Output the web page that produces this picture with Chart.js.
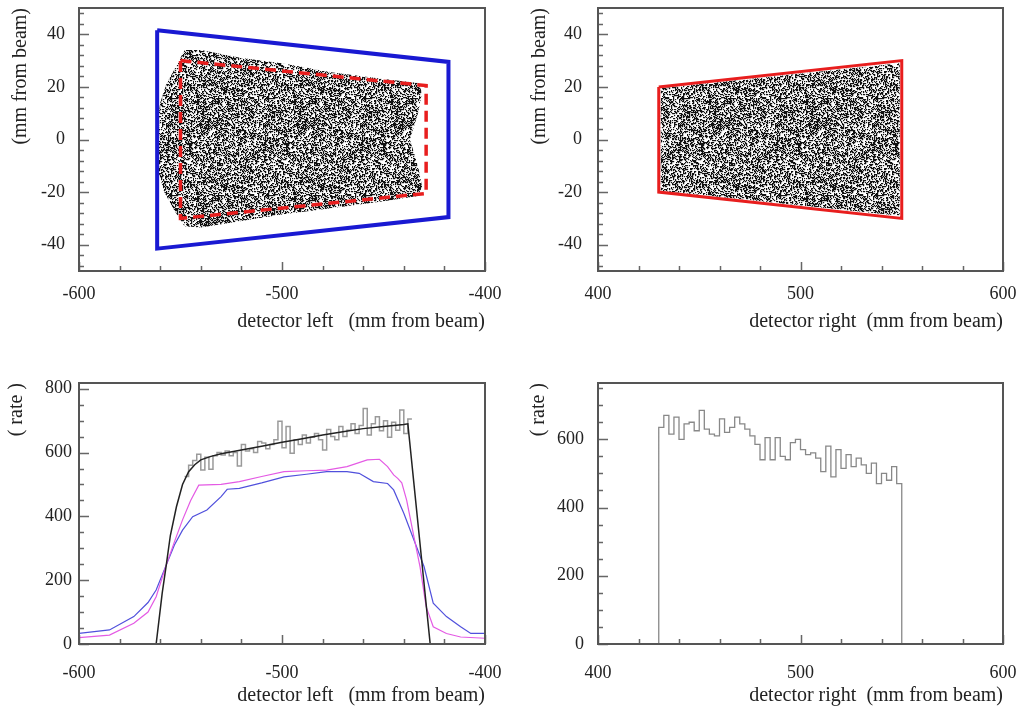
<!DOCTYPE html>
<html>
<head>
<meta charset="utf-8">
<script src="https://cdn.jsdelivr.net/npm/chart.js@4.4.1/dist/chart.umd.min.js"></script>
<style>
  body { margin: 0; background: #fff; }
  canvas { position: absolute; }
</style>
</head>
<body>
<canvas id="topLeft" width="512" height="340" style="left:0;top:0"></canvas>
<canvas id="topRight" width="513" height="340" style="left:512px;top:0"></canvas>
<canvas id="bottomLeft" width="512" height="354" style="left:0;top:354px"></canvas>
<canvas id="bottomRight" width="513" height="354" style="left:512px;top:354px"></canvas>
<script>
// --- data ---
// top left: detector left acceptance (mm)
const leftOuterFrame = [[-561.5, 41.5], [-418, 29.5], [-418, -29.5], [-561.5, -41.5], [-561.5, 41.5]];
const leftInnerFrame = [[-550, 30], [-429, 20.5], [-429, -20.5], [-550, -30], [-550, 30]];
const leftCloud = [[-561, 8], [-560, 14], [-557, 21], [-552, 28], [-548, 34], [-540, 34], [-520, 31],
  [-500, 29], [-475, 25.5], [-450, 23], [-433, 21.5], [-431, 18], [-433, 10], [-437, 0], [-433, -10],
  [-431, -18], [-433, -21.5], [-450, -23.5], [-475, -26], [-500, -28.5], [-520, -31], [-540, -33.5],
  [-548, -33], [-553, -27], [-558, -20], [-561, -12], [-562, 0], [-561, 8]];

// top right: detector right acceptance (mm)
const rightFrame = [[430, 20], [550, 30], [550, -30], [430, -20], [430, 20]];
const rightCloud = [[431, 19.5], [549, 29], [549, -29], [431, -19.5], [431, 19.5]];

// bottom left: rate vs position
const fitX = [-600, -562, -559, -557, -555, -552, -549, -546, -543, -540, -535, -530, -520, -510,
  -500, -490, -480, -470, -460, -450, -440, -438, -427, -400];
const fitY = [0, 0, 160, 248, 340, 430, 500, 540, 562, 577, 588, 596, 608, 620,
  632, 643, 655, 665, 675, 682, 688, 690, 0, 0];
const magentaX = [-600, -585, -573, -566, -562, -557, -553, -549, -545, -541, -530, -521, -510, -499,
  -488, -478, -468, -458, -452, -448, -445, -443, -441, -438.6, -435, -432, -429, -425.5, -419, -412, -400];
const magentaY = [20, 28, 65, 100, 148, 248, 320, 389, 450, 498, 500, 509, 525, 540,
  543, 545, 556, 577, 579, 556, 530, 519, 505, 451, 336, 242, 117, 54, 33, 22, 18];
const blueX = [-600, -585, -573, -566, -562, -557, -553, -549, -544, -537, -530, -527, -521, -510,
  -499, -488, -478, -468, -462, -455, -448, -445, -440, -435, -430, -425.5, -419, -412, -407, -400];
const blueY = [33, 44, 86, 130, 169, 248, 310, 357, 399, 420, 462, 485, 488, 505,
  524, 532, 540, 540, 535, 509, 503, 483, 410, 326, 242, 128, 86, 54, 33, 33];
const leftHistStart = -548, leftHistBin = 2;
const leftHist = [525, 560, 575, 595, 545, 585, 548, 590, 600, 592, 605, 590, 600, 558, 625, 605,
  612, 600, 635, 630, 612, 625, 640, 698, 615, 682, 598, 640, 625, 655, 630, 648, 660, 640, 608,
  672, 650, 640, 682, 650, 670, 690, 660, 685, 738, 655, 690, 712, 668, 700, 648, 695, 670, 733,
  660, 705];

// bottom right: rate vs position
const rightHistStart = 430, rightHistBin = 2.5;
const rightHist = [635, 670, 615, 665, 600, 645, 650, 625, 685, 630, 615, 610, 660, 620, 635, 665,
  645, 630, 610, 585, 540, 605, 540, 605, 550, 540, 590, 600, 570, 555, 560, 545, 505, 580, 490,
  570, 515, 555, 520, 545, 525, 500, 530, 470, 500, 480, 520, 470];

// tick labels
const xTicksLeft = [-600, -500, -400];
const xTicksRight = [400, 500, 600];
const yTicksPos = [-40, -20, 0, 20, 40];
const yTicksRateLeft = [0, 200, 400, 600, 800];
const yTicksRateRight = [0, 200, 400, 600];

// --- helpers ---
const pts = arr => arr.map(p => ({ x: p[0], y: p[1] }));
const zip = (xs, ys) => xs.map((x, i) => ({ x, y: ys[i] }));

function histPoints(start, bin, vals, closeToZero) {
  const out = closeToZero ? [{ x: start, y: 0 }] : [];
  vals.forEach((v, i) => out.push({ x: start + i * bin, y: v }));
  const end = start + vals.length * bin;
  out.push({ x: end, y: closeToZero ? 0 : vals[vals.length - 1] });
  return out;
}

// speckled fill texture for the hit clouds
function speckle() {
  const n = 97;
  const c = document.createElement('canvas');
  c.width = c.height = n;
  const g = c.getContext('2d');
  g.fillStyle = '#fff';
  g.fillRect(0, 0, n, n);
  g.fillStyle = '#111';
  for (let i = 0; i < n; i++) {
    for (let j = 0; j < n; j++) {
      let h = (i * 374761393 + j * 668265263) | 0;
      h = Math.imul(h ^ (h >>> 13), 1274126177);
      h ^= h >>> 16;
      if ((h >>> 0) / 4294967296 < 0.42) g.fillRect(i, j, 1.2, 1.2);
    }
  }
  return g.createPattern(c, 'repeat');
}

// frame + inward ticks (ROOT style)
const frameTicks = {
  id: 'frameTicks',
  afterDatasetsDraw(chart, args, opts) {
    const { ctx, chartArea: a, scales } = chart;
    const sx = scales.x, sy = scales.y;
    ctx.save();
    ctx.strokeStyle = '#666';
    ctx.lineWidth = 1.5;
    ctx.beginPath();
    for (let v = Math.ceil(sx.min / opts.xMinor) * opts.xMinor; v <= sx.max; v += opts.xMinor) {
      const px = Math.round(sx.getPixelForValue(v)) + 0.5;
      const major = sx.ticks.some(t => t.value === v);
      ctx.moveTo(px, a.bottom);
      ctx.lineTo(px, a.bottom - (major ? 9 : 5));
    }
    for (let v = Math.ceil(sy.min / opts.yMinor) * opts.yMinor; v <= sy.max; v += opts.yMinor) {
      const py = Math.round(sy.getPixelForValue(v)) + 0.5;
      const major = sy.ticks.some(t => t.value === v);
      ctx.moveTo(a.left, py);
      ctx.lineTo(a.left + (major ? 10 : 5), py);
    }
    ctx.stroke();
    ctx.lineWidth = 2;
    ctx.strokeStyle = '#555';
    ctx.strokeRect(a.left, a.top, a.right - a.left, a.bottom - a.top);
    ctx.restore();
  }
};

const tickFont = { family: "'Liberation Serif', 'DejaVu Serif', serif", size: 18 };
const titleFont = { family: "'Liberation Serif', 'DejaVu Serif', serif", size: 20 };

function makeChart(id, datasets, c) {
  return new Chart(document.getElementById(id), {
    type: 'line',
    data: { datasets },
    plugins: [frameTicks],
    options: {
      responsive: false,
      animation: false,
      layout: { padding: { top: c.padTop, right: c.padRight, left: 0, bottom: 0 } },
      elements: { point: { radius: 0 }, line: { tension: 0 } },
      plugins: {
        legend: { display: false },
        tooltip: { enabled: false },
        frameTicks: { xMinor: c.xMinor, yMinor: c.yMinor }
      },
      scales: {
        x: {
          type: 'linear',
          min: c.xRange[0], max: c.xRange[1],
          grid: { display: false, drawTicks: false },
          border: { display: false },
          ticks: { maxRotation: 0, autoSkip: false, font: tickFont, color: '#222', padding: c.xPad },
          afterBuildTicks: s => { s.ticks = c.xTicks.map(v => ({ value: v })); },
          title: { display: true, text: c.xTitle, align: 'end', font: titleFont, color: '#222',
                   padding: { top: 0, bottom: c.xTitlePad } },
          afterFit: s => { s.height = c.xHeight; s.paddingLeft = 0; s.paddingRight = 0; }
        },
        y: {
          min: c.yRange[0], max: c.yRange[1],
          grid: { display: false, drawTicks: false },
          border: { display: false },
          ticks: { autoSkip: false, font: tickFont, color: '#222', padding: c.yPad },
          afterBuildTicks: s => { s.ticks = c.yTicks.map(v => ({ value: v })); },
          title: { display: true, text: c.yTitle, align: 'end', font: titleFont, color: '#222',
                   padding: { top: c.yTitlePad, bottom: 0 } },
          afterFit: s => { s.width = c.yWidth; s.paddingTop = 0; s.paddingBottom = 0; }
        }
      }
    }
  });
}

const dots = speckle();
const blue = 'rgb(25,25,210)', red = 'rgb(232,30,30)';

makeChart('topLeft', [
  { data: pts(leftOuterFrame), borderColor: blue, borderWidth: 4, fill: false },
  { data: pts(leftInnerFrame), borderColor: red, borderWidth: 3.5, borderDash: [11, 6], fill: false },
  { data: pts(leftCloud), borderWidth: 0, borderColor: 'rgba(0,0,0,0)', backgroundColor: dots, fill: 'shape' }
], { xRange: [-600, -400], yRange: [-50, 50], xTicks: xTicksLeft, yTicks: yTicksPos, xMinor: 20, yMinor: 4,
     padTop: 8, padRight: 27, yWidth: 79, xHeight: 69, xPad: 12, yPad: 14,
     xTitle: 'detector left   (mm from beam)', yTitle: '(mm from beam)', xTitlePad: 6, yTitlePad: 9 });

makeChart('topRight', [
  { data: pts(rightFrame), borderColor: red, borderWidth: 3, fill: false },
  { data: pts(rightCloud), borderWidth: 0, borderColor: 'rgba(0,0,0,0)', backgroundColor: dots, fill: 'shape' }
], { xRange: [400, 600], yRange: [-50, 50], xTicks: xTicksRight, yTicks: yTicksPos, xMinor: 20, yMinor: 4,
     padTop: 8, padRight: 22, yWidth: 86, xHeight: 69, xPad: 12, yPad: 16,
     xTitle: 'detector right  (mm from beam)', yTitle: '(mm from beam)', xTitlePad: 6, yTitlePad: 16 });

makeChart('bottomLeft', [
  { data: zip(fitX, fitY), borderColor: '#222', borderWidth: 1.5, fill: false },
  { data: histPoints(leftHistStart, leftHistBin, leftHist, false), borderColor: '#9a9a9a', borderWidth: 1.5, stepped: true, fill: false },
  { data: zip(magentaX, magentaY), borderColor: 'rgb(228,90,228)', borderWidth: 1.2, fill: false },
  { data: zip(blueX, blueY), borderColor: 'rgb(80,80,220)', borderWidth: 1.2, fill: false }
], { xRange: [-600, -400], yRange: [0, 818], xTicks: xTicksLeft, yTicks: yTicksRateLeft, xMinor: 20, yMinor: 50,
     padTop: 29, padRight: 27, yWidth: 79, xHeight: 64, xPad: 18, yPad: 7,
     xTitle: 'detector left   (mm from beam)', yTitle: '( rate )', xTitlePad: 0, yTitlePad: 5 });

makeChart('bottomRight', [
  { data: histPoints(rightHistStart, rightHistBin, rightHist, true), borderColor: '#888', borderWidth: 1.3, stepped: true, fill: false }
], { xRange: [400, 600], yRange: [0, 765], xTicks: xTicksRight, yTicks: yTicksRateRight, xMinor: 20, yMinor: 50,
     padTop: 29, padRight: 22, yWidth: 86, xHeight: 64, xPad: 18, yPad: 14,
     xTitle: 'detector right  (mm from beam)', yTitle: '( rate )', xTitlePad: 0, yTitlePad: 15 });
</script>
</body>
</html>
